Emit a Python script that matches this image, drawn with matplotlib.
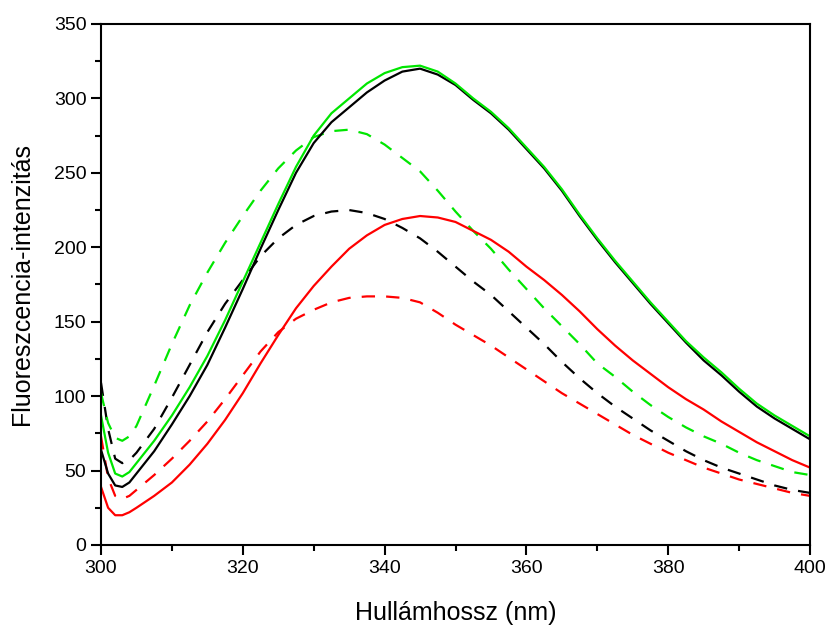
import matplotlib
matplotlib.use('Agg')
import matplotlib.pyplot as plt
from matplotlib.ticker import MultipleLocator

# hullámhossz (nm)
hullam = [300, 301, 302, 303, 304, 305,
          307.5, 310, 312.5, 315, 317.5, 320, 322.5, 325, 327.5, 330,
          332.5, 335, 337.5, 340, 342.5, 345, 347.5, 350, 352.5, 355,
          357.5, 360, 362.5, 365, 367.5, 370, 372.5, 375, 377.5, 380,
          382.5, 385, 387.5, 390, 392.5, 395, 397.5, 400]

zold_folyt = [87, 62, 48, 46, 49, 55,
              70, 87, 106, 127, 151, 177, 203, 229, 254, 275,
              290, 300, 310, 317, 321, 322, 318, 310, 300, 291,
              280, 267, 254, 239, 222, 206, 191, 177, 163, 150,
              137, 126, 116, 105, 95, 87, 80, 73]
fekete_folyt = [64, 48, 40, 39, 42, 48,
                63, 81, 100, 121, 146, 172, 199, 225, 250, 270,
                284, 294, 304, 312, 318, 320, 316, 309, 299, 290,
                279, 266, 253, 238, 221, 205, 190, 176, 162, 149,
                136, 124, 114, 103, 93, 85, 78, 71]
piros_folyt = [39, 25, 20, 20, 22, 25,
               33, 42, 54, 68, 84, 102, 122, 141, 159, 174,
               187, 199, 208, 215, 219, 221, 220, 217, 211, 205,
               197, 187, 178, 168, 157, 145, 134, 124, 115, 106,
               98, 91, 83, 76, 69, 63, 57, 52]
zold_szagg = [102, 82, 72, 70, 73, 80,
              107, 135, 161, 183, 203, 221, 238, 253, 265, 274,
              278, 279, 276, 269, 260, 251, 238, 224, 211, 199,
              185, 172, 159, 147, 135, 122, 113, 103, 94, 86,
              79, 73, 68, 62, 57, 53, 49, 47]
fekete_szagg = [109, 78, 58, 55, 57, 62,
                78, 99, 121, 143, 162, 178, 194, 206, 215, 221,
                224, 225, 223, 219, 213, 206, 197, 187, 177, 168,
                157, 146, 135, 123, 112, 102, 93, 85, 77, 70,
                63, 57, 52, 48, 44, 40, 37, 35]
piros_szagg = [73, 45, 33, 31, 33, 37,
               47, 58, 70, 83, 98, 114, 130, 143, 152, 158,
               163, 166, 167, 167, 166, 163, 156, 148, 141, 134,
               126, 118, 110, 102, 95, 88, 81, 74, 68, 62,
               57, 52, 48, 44, 41, 38, 35, 33]

plt.rcParams['font.family'] = ['Liberation Sans', 'DejaVu Sans']

fig = plt.figure(figsize=(8.3, 6.26), dpi=100)
ax = fig.add_axes([0.1217, 0.1294, 0.8542, 0.8323])

zold = '#00e600'
piros = '#ff0000'
lw = 1.6
szagg = (0, (6, 5))

ax.plot(hullam, piros_szagg, color=piros, lw=lw, linestyle=szagg)
ax.plot(hullam, fekete_szagg, color='black', lw=lw, linestyle=szagg)
ax.plot(hullam, zold_szagg, color=zold, lw=lw, linestyle=szagg)
ax.plot(hullam, piros_folyt, color=piros, lw=lw)
ax.plot(hullam, fekete_folyt, color='black', lw=lw)
ax.plot(hullam, zold_folyt, color=zold, lw=lw)

ax.set_xlim(300, 400)
ax.set_ylim(0, 350)
ax.xaxis.set_major_locator(MultipleLocator(20))
ax.xaxis.set_minor_locator(MultipleLocator(10))
ax.yaxis.set_major_locator(MultipleLocator(50))
ax.yaxis.set_minor_locator(MultipleLocator(25))
ax.tick_params(which='major', direction='out', length=7, width=1.5, labelsize=14)
ax.tick_params(which='minor', direction='out', length=4, width=1.5)
for s in ax.spines.values():
    s.set_linewidth(1.5)

ax.set_xlabel('Hullámhossz (nm)', fontsize=18)
ax.set_ylabel('Fluoreszcencia-intenzitás', fontsize=18)
ax.xaxis.set_label_coords(0.5, -0.108)
ax.yaxis.set_label_coords(-0.095, 0.5)

fig.savefig('out.png', dpi=100)
